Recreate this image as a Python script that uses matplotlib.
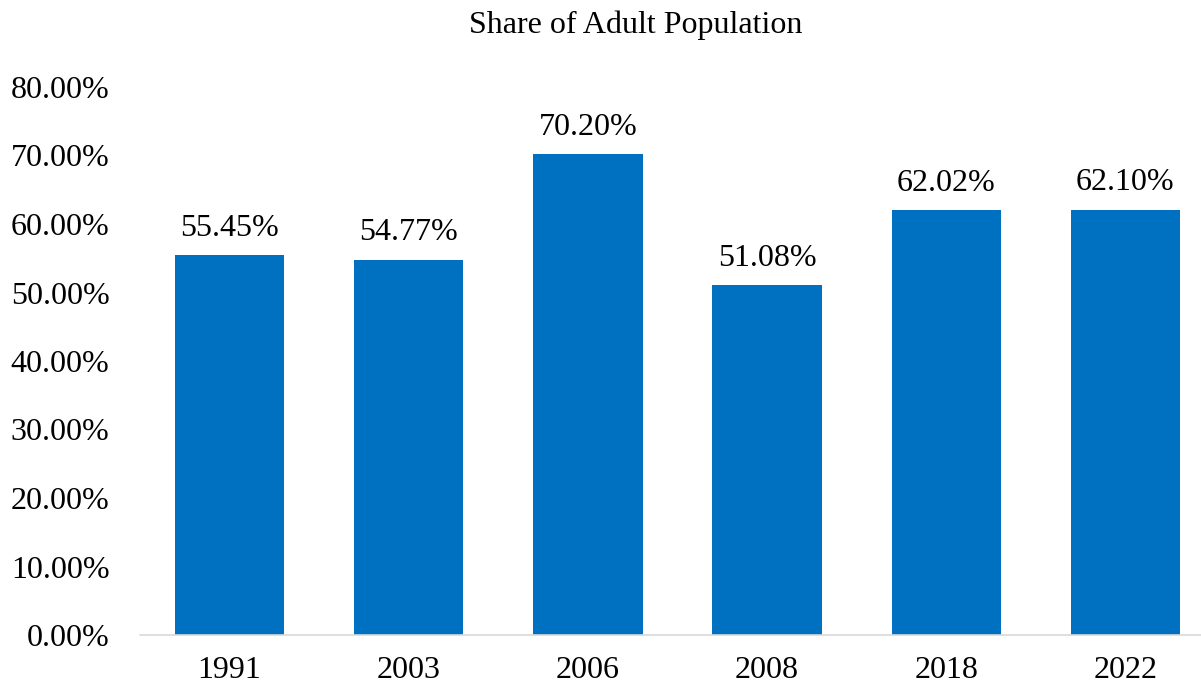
import matplotlib
matplotlib.use("Agg")
import matplotlib.pyplot as plt
from matplotlib.ticker import FuncFormatter

years = ["1991", "2003", "2006", "2008", "2018", "2022"]
share = [55.45, 54.77, 70.20, 51.08, 62.02, 62.10]

plt.rcParams['font.family'] = ['Liberation Serif', 'DejaVu Serif']

fig = plt.figure(figsize=(12.01, 6.85), dpi=100)
ax = fig.add_axes([140 / 1201, 50 / 685, 1075 / 1201, 548 / 685])

color = '#0070C0'
x = range(len(years))
bars = ax.bar(x, share, width=0.61, color=color, zorder=2)

for xi, v in zip(x, share):
    ax.text(xi, v + 1.8, f"{v:.2f}%", ha='center', va='bottom', fontsize=23)

ax.set_ylim(0, 80)
ax.set_xlim(-0.5, len(years) - 0.5)
ax.set_yticks(range(0, 81, 10))
ax.yaxis.set_major_formatter(FuncFormatter(lambda v, p: f"{v:.2f}%"))
ax.set_xticks(list(x))
ax.set_xticklabels(years)
ax.tick_params(axis='both', labelsize=23, length=0)
ax.tick_params(axis='x', pad=15)
ax.tick_params(axis='y', pad=22)

for s in ['top', 'right', 'left']:
    ax.spines[s].set_visible(False)
ax.spines['bottom'].set_color('#D9D9D9')
ax.spines['bottom'].set_linewidth(1.2)

# title sits a bit right of the figure centre, as in the original
fig.text(636 / 1201, 1 - 25 / 685, "Share of Adult Population", ha='center', va='center', fontsize=23)

fig.savefig("out.png", dpi=100)
